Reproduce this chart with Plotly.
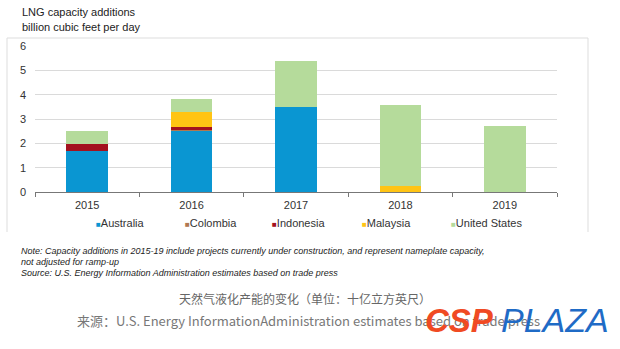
import plotly.graph_objects as go

years = ["2015", "2016", "2017", "2018", "2019"]
australia = [1.70, 2.52, 3.50, 0.00, 0.00]
colombia = [0.00, 0.06, 0.00, 0.00, 0.00]
indonesia = [0.27, 0.08, 0.00, 0.00, 0.00]
malaysia = [0.00, 0.63, 0.00, 0.24, 0.00]
united_states = [0.53, 0.55, 1.90, 3.34, 2.73]

series = [
    ("Australia", australia, "#0A96D2"),
    ("Colombia", colombia, "#B07850"),
    ("Indonesia", indonesia, "#A3121E"),
    ("Malaysia", malaysia, "#FFC414"),
    ("United States", united_states, "#B5DB9B"),
]

W, H = 620, 349
L, R, T, B = 35, 557, 46, 192  # plot area pixel bounds


def px(x):
    return (x - L) / (R - L)


def py(y):
    return (B - y) / (B - T)


fig = go.Figure()
for name, vals, col in series:
    fig.add_trace(go.Bar(x=years, y=vals, name=name, marker=dict(color=col, line=dict(width=0)),
                         showlegend=False))

ann = []
base_font = "Liberation Sans, Arial, sans-serif"
ann.append(dict(text="LNG capacity additions", x=px(20), y=py(12), xref="paper", yref="paper",
                xanchor="left", yanchor="middle", showarrow=False,
                font=dict(family=base_font, size=11, color="#222")))
ann.append(dict(text="billion cubic feet per day", x=px(20), y=py(27), xref="paper", yref="paper",
                xanchor="left", yanchor="middle", showarrow=False,
                font=dict(family=base_font, size=11, color="#222")))

legend_x = [94, 183, 270, 360, 449]
for (name, vals, col), lx in zip(series, legend_x):
    ann.append(dict(text=f"<span style='color:{col};font-size:8px'>■</span>{name}",
                    x=px(lx), y=py(223), xref="paper", yref="paper",
                    xanchor="left", yanchor="middle", showarrow=False,
                    font=dict(family=base_font, size=11, color="#333")))

notes = [
    "Note: Capacity additions in 2015-19 include projects currently under construction, and represent nameplate capacity,",
    "not adjusted for ramp-up",
    "Source: U.S. Energy Information Administration estimates based on trade press",
]
for t, yy in zip(notes, [251, 262, 273]):
    ann.append(dict(text=f"<i>{t}</i>", x=px(19), y=py(yy), xref="paper", yref="paper",
                    xanchor="left", yanchor="middle", showarrow=False,
                    font=dict(family=base_font, size=9, color="#222")))

cjk = "Noto Sans CJK SC"
ann.append(dict(text="天然气液化产能的变化（单位：十亿立方英尺）", x=px(177), y=py(298),
                xref="paper", yref="paper", xanchor="left", yanchor="middle", showarrow=False,
                font=dict(family=cjk, size=12, color="#666")))
ann.append(dict(text="来源：U.S. Energy InformationAdministration estimates based on trade press",
                x=px(75), y=py(320), xref="paper", yref="paper", xanchor="left", yanchor="middle",
                showarrow=False, font=dict(family=cjk, size=13, color="#777")))
ann.append(dict(text="<b><i>CSP</i></b>", x=px(423), y=py(320), xref="paper", yref="paper",
                xanchor="left", yanchor="middle", showarrow=False,
                font=dict(family=base_font, size=33, color="#F04A23")))
ann.append(dict(text="<i>PLAZA</i>", x=px(499), y=py(320), xref="paper", yref="paper",
                xanchor="left", yanchor="middle", showarrow=False,
                font=dict(family=base_font, size=34, color="#1F6BC6")))

shapes = [
    dict(type="line", xref="paper", yref="paper", x0=px(7), x1=px(7), y0=py(38), y1=py(232),
         line=dict(color="#DDDDDD", width=1)),
    dict(type="line", xref="paper", yref="paper", x0=px(7), x1=px(588), y0=py(38), y1=py(38),
         line=dict(color="#DDDDDD", width=1)),
    dict(type="line", xref="paper", yref="paper", x0=px(588), x1=px(588), y0=py(38), y1=py(232),
         line=dict(color="#DDDDDD", width=1)),
]

fig.update_layout(
    width=W, height=H,
    margin=dict(l=L, r=W - R, t=T, b=H - B, pad=0),
    barmode="stack", bargap=0.6,
    plot_bgcolor="white", paper_bgcolor="white",
    font=dict(family=base_font, size=11, color="#333"),
    annotations=ann, shapes=shapes,
    showlegend=False,
)
fig.update_xaxes(showline=True, linecolor="#777", linewidth=1, ticks="outside", tickson="boundaries",
                 ticklen=4, tickcolor="#777", tickfont=dict(size=11, color="#333"), showgrid=False,
                 ticklabelstandoff=3)
fig.update_yaxes(range=[0, 6], dtick=1, showgrid=True, gridcolor="#DADADA", gridwidth=1,
                 zeroline=False, showline=False, ticks="", ticklabelstandoff=8,
                 tickfont=dict(size=11, color="#333"))

fig.write_html("out.html")
